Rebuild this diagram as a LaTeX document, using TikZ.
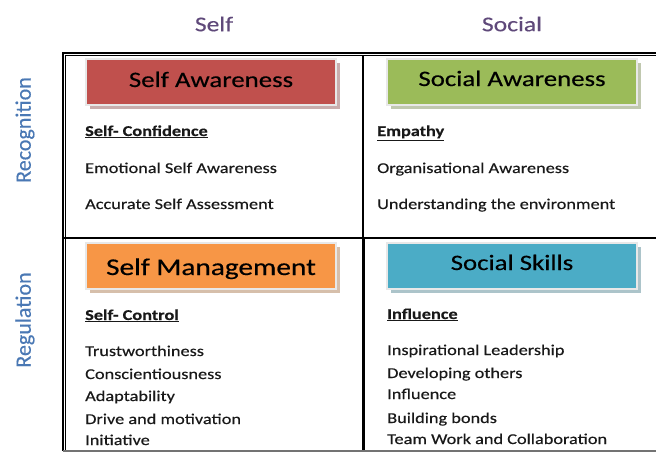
\documentclass[tikz,border=0pt]{standalone}
\usepackage{fontspec}
\setmainfont{Carlito}[FakeStretch=1.22, FakeBold=0.35]
\newfontfamily\sidefont{Carlito}[FakeBold=0.35]
\usetikzlibrary{shadows}

\definecolor{awarered}{HTML}{C0504D}
\definecolor{awaregreen}{HTML}{9BBB59}
\definecolor{manageorange}{HTML}{F79646}
\definecolor{skillblue}{HTML}{4BACC6}
\definecolor{colpurple}{HTML}{5F497A}
\definecolor{rowblue}{HTML}{4A78B4}

\begin{document}
\begin{tikzpicture}[x=1pt, y=-1pt,
  box/.style={rectangle, minimum width=250pt, minimum height=46pt, inner sep=0pt,
    draw=black!9, line width=2.5pt,
    drop shadow={shadow xshift=4pt, shadow yshift=-4pt, fill=#1!45!gray, opacity=0.55},
    fill=#1},
  title/.style={anchor=base, inner sep=0pt, text=black, font=\fontsize{22}{24}\selectfont},
  item/.style={anchor=base west, inner sep=0pt, text=black!90, font=\fontsize{15}{17}\selectfont},
  head/.style={item, font=\fontsize{15}{17}\selectfont\bfseries},
  colhead/.style={text=colpurple, font=\fontsize{21}{24}\selectfont},
  rowhead/.style={text=rowblue, rotate=90, font=\sidefont\fontsize{22}{24}\selectfont}]
  \useasboundingbox (0, 0) rectangle (656, 452);

  % headings
  \node (self) at (214, 24) [colhead] {Self};
  \node (social) at (512, 24) [colhead] {Social};
  \node (recog) at (25, 130) [rowhead] {Recognition};
  \node (regul) at (25, 320) [rowhead] {Regulation};

  % grid
  \draw [line width=2pt] (63, 451) -- (63, 53) -- (656, 53);
  \draw [line width=0.7pt] (65.6, 451) -- (65.6, 55.6) -- (656, 55.6);
  \draw [line width=1.5pt] (63, 238) -- (656, 238);
  \draw [line width=1.2pt] (363, 55.6) -- (363, 238);
  \draw [line width=2.2pt] (363.5, 238) -- (363.5, 452);
  \draw [line width=1.2pt, color=black!55] (63, 451) -- (656, 451);

  % coloured title boxes
  \node (selfaware) at (211, 82) [box=awarered] {};
  \node (selfawaretext) at (211, 87) [title] {Self Awareness};
  \node (socialaware) at (512, 82) [box=awaregreen] {};
  \node (socialawaretext) at (512, 86) [title] {Social Awareness};
  \node (selfmanage) at (211, 266) [box=manageorange] {};
  \node (selfmanagetext) at (211, 275) [title, font=\fontsize{24}{26}\selectfont] {Self Management};
  \node (socialskill) at (512, 266) [box=skillblue] {};
  \node (socialskilltext) at (512, 270) [title] {Social Skills};

  % self awareness
  \node (confid) at (85, 136) [head] {\underline{Self- Confidence}};
  \node (emoself) at (85, 173) [item] {Emotional Self Awareness};
  \node (accself) at (85, 209) [item] {Accurate Self Assessment};

  % social awareness
  \node (empathy) at (377, 136) [head] {\underline{Empathy}};
  \node (orgaware) at (377, 173) [item] {Organisational Awareness};
  \node (underenv) at (377, 209) [item] {Understanding the environment};

  % self management
  \node (control) at (85, 320) [head] {\underline{Self- Control}};
  \node (trust) at (85, 356) [item] {Trustworthiness};
  \node (consc) at (85, 379) [item] {Conscientiousness};
  \node (adapt) at (85, 401) [item] {Adaptability};
  \node (drive) at (85, 424) [item] {Drive and motivation};
  \node (init) at (85, 445) [item] {Initiative};

  % social skills
  \node (influhead) at (387, 319) [head] {\underline{Influence}};
  \node (inspire) at (387, 355) [item] {Inspirational Leadership};
  \node (develop) at (387, 378) [item] {Developing others};
  \node (influ) at (387, 399) [item] {Influence};
  \node (bonds) at (387, 423) [item] {Building bonds};
  \node (teamwork) at (387, 444) [item] {Team Work and Collaboration};
\end{tikzpicture}
\end{document}
